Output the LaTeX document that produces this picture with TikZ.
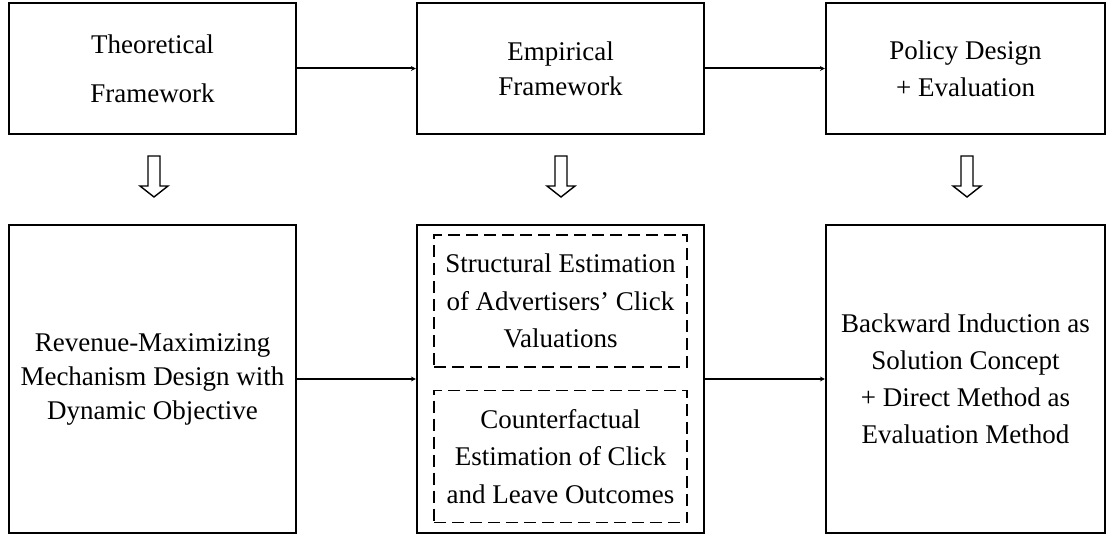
\documentclass[tikz,border=0pt]{standalone}
\usepackage{fontspec}
\setmainfont{Liberation Serif}
\usetikzlibrary{arrows.meta}
\begin{document}
\begin{tikzpicture}[x=1pt,y=-1pt,
  box/.style={draw, line width=2.2pt, rectangle, align=center, inner sep=0pt,
    font=\fontsize{27}{37}\selectfont},
  dbox/.style={draw, line width=1.8pt, dash pattern=on 12pt off 6pt, rectangle,
    align=center, inner sep=0pt, minimum width=253pt, minimum height=132pt,
    font=\fontsize{27}{37.5}\selectfont},
  conn/.style={line width=2pt, -{Stealth[length=5pt,width=5pt]}},
  hol/.pic={\draw[line width=1.4pt, miter limit=10]
     (-6,0) -- (-6,30) -- (-14,30) -- (0,41) -- (14,30) -- (6,30) -- (6,0) -- cycle;}
]
\useasboundingbox (0,0) rectangle (1106,535);

% top row
\node[box, minimum width=287pt, minimum height=131pt, font=\fontsize{27}{49}\selectfont]
  (t1) at (152.5,68.5) {Theoretical\\Framework};
\node[box, minimum width=287pt, minimum height=131pt, font=\fontsize{27}{35}\selectfont]
  (t2) at (560.5,68.5) {Empirical\\Framework};
\node[box, minimum width=279pt, minimum height=131pt]
  (t3) at (965.5,68.5) {Policy Design\\+ Evaluation};

% bottom row
\node[box, minimum width=287pt, minimum height=308pt, font=\fontsize{27}{34}\selectfont]
  (b1) at (152.5,379) {Revenue-Maximizing\\Mechanism Design with\\Dynamic Objective};
\node[box, minimum width=287pt, minimum height=308pt]
  (b2) at (560.5,379) {};
\node[box, minimum width=279pt, minimum height=308pt]
  (b3) at (965.5,379) {Backward Induction as\\Solution Concept\\+ Direct Method as\\Evaluation Method};

\node[dbox] (d1) at (560.5,301) {Structural Estimation\\of Advertisers’ Click\\Valuations};
\node[dbox] (d2) at (560.5,456.5) {Counterfactual\\Estimation of Click\\and Leave Outcomes};

% connectors
\draw[conn] (t1.east) -- (t2.west);
\draw[conn] (t2.east) -- (t3.west);
\draw[conn] (b1.east) -- (b2.west);
\draw[conn] (b2.east) -- (b3.west);

% hollow arrows
\pic at (154,156) {hol};
\pic at (561,156) {hol};
\pic at (967,156) {hol};
\end{tikzpicture}
\end{document}
